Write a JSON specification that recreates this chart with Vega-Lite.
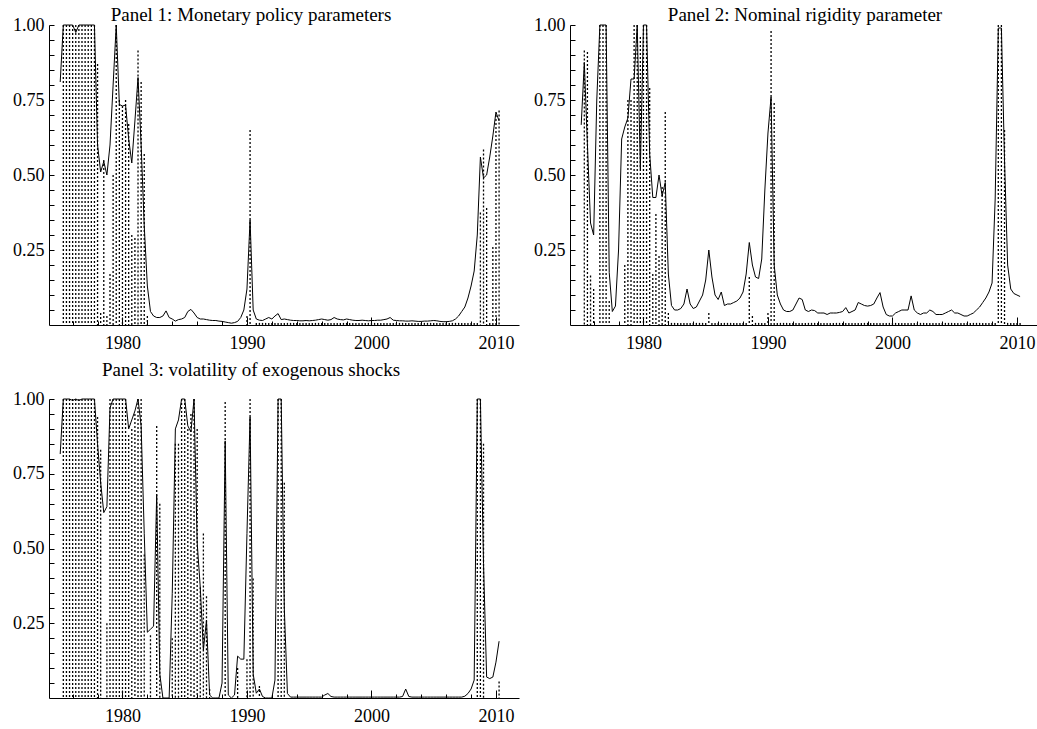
{
"$schema": "https://vega.github.io/schema/vega-lite/v6.json",
"background": "white",
"padding": {"left": 12, "top": 6, "right": 0, "bottom": 0},
"config": {
  "view": {"stroke": null},
  "font": "Liberation Serif",
  "axis": {"labelFont": "Liberation Serif", "labelFontSize": 18, "labelColor": "black", "domainColor": "black", "tickColor": "black", "grid": false, "title": null, "domainWidth": 1, "tickWidth": 1, "labelOverlap": false},
  "title": {"font": "Liberation Serif", "fontSize": 19, "fontWeight": "normal", "color": "black", "anchor": "middle", "baseline": "bottom"}
},
"datasets": {"d": [
{"t":1975,"s1":0.81,"f1":0,"s2":0.667,"f2":0,"s3":0.816,"f3":0},
{"t":1975.25,"s1":1,"f1":1,"s2":0.875,"f2":0.915,"s3":1,"f3":1},
{"t":1975.5,"s1":1,"f1":1,"s2":0.6,"f2":0.91,"s3":1,"f3":1},
{"t":1975.75,"s1":1,"f1":1,"s2":0.34,"f2":0.165,"s3":1,"f3":1},
{"t":1976,"s1":1,"f1":1,"s2":0.3,"f2":0.12,"s3":0.995,"f3":1},
{"t":1976.25,"s1":0.975,"f1":1,"s2":0.75,"f2":0,"s3":1,"f3":1},
{"t":1976.5,"s1":1,"f1":1,"s2":1,"f2":1,"s3":0.995,"f3":1},
{"t":1976.75,"s1":1,"f1":1,"s2":1,"f2":1,"s3":1,"f3":1},
{"t":1977,"s1":1,"f1":1,"s2":1,"f2":1,"s3":1,"f3":1},
{"t":1977.25,"s1":1,"f1":1,"s2":0.175,"f2":0.08,"s3":1,"f3":1},
{"t":1977.5,"s1":1,"f1":1,"s2":0.045,"f2":0,"s3":1,"f3":1},
{"t":1977.75,"s1":1,"f1":1,"s2":0.063,"f2":0,"s3":1,"f3":1},
{"t":1978,"s1":0.6,"f1":0.87,"s2":0.25,"f2":0,"s3":0.85,"f3":0.94},
{"t":1978.25,"s1":0.51,"f1":0.04,"s2":0.62,"f2":0,"s3":0.72,"f3":0.83},
{"t":1978.5,"s1":0.545,"f1":0.55,"s2":0.66,"f2":0.2,"s3":0.62,"f3":0},
{"t":1978.75,"s1":0.5,"f1":0.03,"s2":0.69,"f2":0.75,"s3":0.64,"f3":0.25},
{"t":1979,"s1":0.6,"f1":0.17,"s2":0.82,"f2":0.75,"s3":0.97,"f3":1},
{"t":1979.25,"s1":0.8,"f1":0.5,"s2":0.82,"f2":1,"s3":1,"f3":1},
{"t":1979.5,"s1":1,"f1":1,"s2":1,"f2":1,"s3":1,"f3":1},
{"t":1979.75,"s1":0.735,"f1":0.75,"s2":0.52,"f2":0.96,"s3":1,"f3":1},
{"t":1980,"s1":0.73,"f1":0.73,"s2":1,"f2":1,"s3":1,"f3":1},
{"t":1980.25,"s1":0.733,"f1":0.75,"s2":1,"f2":1,"s3":1,"f3":1},
{"t":1980.5,"s1":0.62,"f1":0.67,"s2":0.57,"f2":0.79,"s3":0.9,"f3":0.88},
{"t":1980.75,"s1":0.54,"f1":0.3,"s2":0.425,"f2":0.17,"s3":0.93,"f3":0.9},
{"t":1981,"s1":0.68,"f1":0.29,"s2":0.425,"f2":0.37,"s3":0.96,"f3":0.95},
{"t":1981.25,"s1":0.825,"f1":0.915,"s2":0.5,"f2":0.23,"s3":1,"f3":1},
{"t":1981.5,"s1":0.6,"f1":0.81,"s2":0.43,"f2":0.46,"s3":0.91,"f3":1},
{"t":1981.75,"s1":0.33,"f1":0.57,"s2":0.475,"f2":0.71,"s3":0.55,"f3":0.48},
{"t":1982,"s1":0.13,"f1":0.03,"s2":0.17,"f2":0.04,"s3":0.22,"f3":0},
{"t":1982.25,"s1":0.045,"f1":0,"s2":0.065,"f2":0.007,"s3":0.23,"f3":0.21},
{"t":1982.5,"s1":0.03,"f1":0,"s2":0.05,"f2":0.007,"s3":0.24,"f3":0},
{"t":1982.75,"s1":0.025,"f1":0,"s2":0.05,"f2":0.007,"s3":0.68,"f3":0.91},
{"t":1983,"s1":0.025,"f1":0,"s2":0.055,"f2":0.007,"s3":0.08,"f3":0.65},
{"t":1983.25,"s1":0.03,"f1":0,"s2":0.07,"f2":0.007,"s3":0,"f3":0},
{"t":1983.5,"s1":0.047,"f1":0,"s2":0.12,"f2":0.007,"s3":0,"f3":0},
{"t":1983.75,"s1":0.025,"f1":0,"s2":0.07,"f2":0.007,"s3":0,"f3":0},
{"t":1984,"s1":0.02,"f1":0,"s2":0.055,"f2":0.007,"s3":0.35,"f3":0.2},
{"t":1984.25,"s1":0.013,"f1":0,"s2":0.06,"f2":0.007,"s3":0.9,"f3":0.85},
{"t":1984.5,"s1":0.018,"f1":0,"s2":0.08,"f2":0.007,"s3":0.93,"f3":0.85},
{"t":1984.75,"s1":0.02,"f1":0,"s2":0.1,"f2":0.007,"s3":1,"f3":1},
{"t":1985,"s1":0.025,"f1":0,"s2":0.15,"f2":0.007,"s3":1,"f3":1},
{"t":1985.25,"s1":0.045,"f1":0,"s2":0.25,"f2":0.04,"s3":0.91,"f3":0.9},
{"t":1985.5,"s1":0.052,"f1":0,"s2":0.16,"f2":0.007,"s3":0.89,"f3":0.95},
{"t":1985.75,"s1":0.04,"f1":0,"s2":0.1,"f2":0.007,"s3":1,"f3":1},
{"t":1986,"s1":0.025,"f1":0,"s2":0.085,"f2":0.007,"s3":0.52,"f3":0.9},
{"t":1986.25,"s1":0.02,"f1":0,"s2":0.11,"f2":0.007,"s3":0.37,"f3":0.37},
{"t":1986.5,"s1":0.02,"f1":0,"s2":0.065,"f2":0.007,"s3":0.16,"f3":0.55},
{"t":1986.75,"s1":0.018,"f1":0,"s2":0.07,"f2":0.007,"s3":0.26,"f3":0.34},
{"t":1987,"s1":0.016,"f1":0,"s2":0.07,"f2":0.007,"s3":0.01,"f3":0.03},
{"t":1987.25,"s1":0.015,"f1":0,"s2":0.075,"f2":0.007,"s3":0,"f3":0},
{"t":1987.5,"s1":0.015,"f1":0,"s2":0.08,"f2":0.007,"s3":0,"f3":0},
{"t":1987.75,"s1":0.013,"f1":0,"s2":0.09,"f2":0.007,"s3":0,"f3":0},
{"t":1988,"s1":0.012,"f1":0,"s2":0.11,"f2":0.007,"s3":0.05,"f3":0},
{"t":1988.25,"s1":0.01,"f1":0,"s2":0.17,"f2":0.007,"s3":0.86,"f3":0.99},
{"t":1988.5,"s1":0.008,"f1":0,"s2":0.275,"f2":0.16,"s3":0.01,"f3":0},
{"t":1988.75,"s1":0.006,"f1":0,"s2":0.2,"f2":0.03,"s3":0,"f3":0},
{"t":1989,"s1":0.008,"f1":0,"s2":0.16,"f2":0.007,"s3":0.01,"f3":0},
{"t":1989.25,"s1":0.012,"f1":0,"s2":0.155,"f2":0.007,"s3":0.14,"f3":0.1},
{"t":1989.5,"s1":0.025,"f1":0,"s2":0.22,"f2":0.007,"s3":0.13,"f3":0},
{"t":1989.75,"s1":0.05,"f1":0,"s2":0.45,"f2":0.007,"s3":0.13,"f3":0},
{"t":1990,"s1":0.12,"f1":0.03,"s2":0.64,"f2":0.04,"s3":0.55,"f3":0.13},
{"t":1990.25,"s1":0.35,"f1":0.65,"s2":0.76,"f2":0.98,"s3":0.94,"f3":1},
{"t":1990.5,"s1":0.05,"f1":0,"s2":0.2,"f2":0.74,"s3":0.08,"f3":0.4},
{"t":1990.75,"s1":0.02,"f1":0.007,"s2":0.1,"f2":0.007,"s3":0.016,"f3":0},
{"t":1991,"s1":0.016,"f1":0.007,"s2":0.07,"f2":0.007,"s3":0.03,"f3":0.04},
{"t":1991.25,"s1":0.015,"f1":0.007,"s2":0.05,"f2":0.007,"s3":0.005,"f3":0},
{"t":1991.5,"s1":0.02,"f1":0.007,"s2":0.045,"f2":0.007,"s3":0,"f3":0},
{"t":1991.75,"s1":0.025,"f1":0.007,"s2":0.045,"f2":0.007,"s3":0,"f3":0},
{"t":1992,"s1":0.02,"f1":0.007,"s2":0.05,"f2":0.007,"s3":0,"f3":0},
{"t":1992.25,"s1":0.03,"f1":0.007,"s2":0.07,"f2":0.007,"s3":0.06,"f3":0},
{"t":1992.5,"s1":0.038,"f1":0.007,"s2":0.09,"f2":0.007,"s3":1,"f3":1},
{"t":1992.75,"s1":0.018,"f1":0.007,"s2":0.085,"f2":0.007,"s3":1,"f3":1},
{"t":1993,"s1":0.02,"f1":0.007,"s2":0.05,"f2":0.007,"s3":0.3,"f3":0.72},
{"t":1993.25,"s1":0.018,"f1":0.007,"s2":0.045,"f2":0.007,"s3":0.015,"f3":0},
{"t":1993.5,"s1":0.016,"f1":0.007,"s2":0.05,"f2":0.007,"s3":0.003,"f3":0},
{"t":1993.75,"s1":0.015,"f1":0.007,"s2":0.048,"f2":0.007,"s3":0.003,"f3":0},
{"t":1994,"s1":0.015,"f1":0.007,"s2":0.04,"f2":0.007,"s3":0.003,"f3":0},
{"t":1994.25,"s1":0.014,"f1":0.007,"s2":0.04,"f2":0.007,"s3":0.003,"f3":0},
{"t":1994.5,"s1":0.014,"f1":0.007,"s2":0.04,"f2":0.007,"s3":0.003,"f3":0},
{"t":1994.75,"s1":0.015,"f1":0.007,"s2":0.035,"f2":0.007,"s3":0.003,"f3":0},
{"t":1995,"s1":0.014,"f1":0.007,"s2":0.04,"f2":0.007,"s3":0.003,"f3":0},
{"t":1995.25,"s1":0.015,"f1":0.007,"s2":0.04,"f2":0.007,"s3":0.003,"f3":0},
{"t":1995.5,"s1":0.016,"f1":0.007,"s2":0.04,"f2":0.007,"s3":0.003,"f3":0},
{"t":1995.75,"s1":0.018,"f1":0.007,"s2":0.042,"f2":0.007,"s3":0.003,"f3":0},
{"t":1996,"s1":0.02,"f1":0.007,"s2":0.045,"f2":0.007,"s3":0.003,"f3":0},
{"t":1996.25,"s1":0.018,"f1":0.007,"s2":0.058,"f2":0.007,"s3":0.01,"f3":0},
{"t":1996.5,"s1":0.016,"f1":0.007,"s2":0.04,"f2":0.007,"s3":0.015,"f3":0},
{"t":1996.75,"s1":0.018,"f1":0.007,"s2":0.045,"f2":0.007,"s3":0.005,"f3":0},
{"t":1997,"s1":0.025,"f1":0.007,"s2":0.05,"f2":0.007,"s3":0.003,"f3":0},
{"t":1997.25,"s1":0.02,"f1":0.007,"s2":0.075,"f2":0.007,"s3":0.003,"f3":0},
{"t":1997.5,"s1":0.018,"f1":0.007,"s2":0.07,"f2":0.007,"s3":0.003,"f3":0},
{"t":1997.75,"s1":0.017,"f1":0.007,"s2":0.065,"f2":0.007,"s3":0.003,"f3":0},
{"t":1998,"s1":0.02,"f1":0.007,"s2":0.063,"f2":0.007,"s3":0.003,"f3":0},
{"t":1998.25,"s1":0.018,"f1":0.007,"s2":0.065,"f2":0.007,"s3":0.003,"f3":0},
{"t":1998.5,"s1":0.016,"f1":0.007,"s2":0.07,"f2":0.007,"s3":0.003,"f3":0},
{"t":1998.75,"s1":0.015,"f1":0.007,"s2":0.09,"f2":0.007,"s3":0.003,"f3":0},
{"t":1999,"s1":0.015,"f1":0.007,"s2":0.108,"f2":0.007,"s3":0.003,"f3":0},
{"t":1999.25,"s1":0.016,"f1":0.007,"s2":0.06,"f2":0.007,"s3":0.003,"f3":0},
{"t":1999.5,"s1":0.015,"f1":0.007,"s2":0.035,"f2":0.007,"s3":0.003,"f3":0},
{"t":1999.75,"s1":0.014,"f1":0.007,"s2":0.03,"f2":0.007,"s3":0.003,"f3":0},
{"t":2000,"s1":0.015,"f1":0.007,"s2":0.03,"f2":0.007,"s3":0.003,"f3":0},
{"t":2000.25,"s1":0.015,"f1":0.007,"s2":0.04,"f2":0.007,"s3":0.003,"f3":0},
{"t":2000.5,"s1":0.016,"f1":0.007,"s2":0.045,"f2":0.007,"s3":0.003,"f3":0},
{"t":2000.75,"s1":0.016,"f1":0.007,"s2":0.05,"f2":0.007,"s3":0.003,"f3":0},
{"t":2001,"s1":0.018,"f1":0.007,"s2":0.05,"f2":0.007,"s3":0.003,"f3":0},
{"t":2001.25,"s1":0.02,"f1":0.007,"s2":0.05,"f2":0.007,"s3":0.003,"f3":0},
{"t":2001.5,"s1":0.025,"f1":0.007,"s2":0.097,"f2":0.007,"s3":0.003,"f3":0},
{"t":2001.75,"s1":0.016,"f1":0.007,"s2":0.05,"f2":0.007,"s3":0.003,"f3":0},
{"t":2002,"s1":0.015,"f1":0.007,"s2":0.04,"f2":0.007,"s3":0.003,"f3":0},
{"t":2002.25,"s1":0.014,"f1":0.007,"s2":0.035,"f2":0.007,"s3":0.003,"f3":0},
{"t":2002.5,"s1":0.014,"f1":0.007,"s2":0.04,"f2":0.007,"s3":0.005,"f3":0},
{"t":2002.75,"s1":0.013,"f1":0.007,"s2":0.04,"f2":0.007,"s3":0.03,"f3":0},
{"t":2003,"s1":0.013,"f1":0.007,"s2":0.05,"f2":0.007,"s3":0.005,"f3":0},
{"t":2003.25,"s1":0.014,"f1":0.007,"s2":0.045,"f2":0.007,"s3":0.003,"f3":0},
{"t":2003.5,"s1":0.013,"f1":0.007,"s2":0.035,"f2":0.007,"s3":0.003,"f3":0},
{"t":2003.75,"s1":0.012,"f1":0.007,"s2":0.035,"f2":0.007,"s3":0.003,"f3":0},
{"t":2004,"s1":0.012,"f1":0.007,"s2":0.035,"f2":0.007,"s3":0.003,"f3":0},
{"t":2004.25,"s1":0.013,"f1":0.007,"s2":0.04,"f2":0.007,"s3":0.003,"f3":0},
{"t":2004.5,"s1":0.013,"f1":0.007,"s2":0.045,"f2":0.007,"s3":0.003,"f3":0},
{"t":2004.75,"s1":0.014,"f1":0.007,"s2":0.05,"f2":0.007,"s3":0.003,"f3":0},
{"t":2005,"s1":0.015,"f1":0.007,"s2":0.04,"f2":0.007,"s3":0.003,"f3":0},
{"t":2005.25,"s1":0.014,"f1":0.007,"s2":0.04,"f2":0.007,"s3":0.003,"f3":0},
{"t":2005.5,"s1":0.012,"f1":0.007,"s2":0.035,"f2":0.007,"s3":0.003,"f3":0},
{"t":2005.75,"s1":0.011,"f1":0.007,"s2":0.03,"f2":0.007,"s3":0.003,"f3":0},
{"t":2006,"s1":0.011,"f1":0.007,"s2":0.03,"f2":0.007,"s3":0.003,"f3":0},
{"t":2006.25,"s1":0.012,"f1":0.007,"s2":0.035,"f2":0.007,"s3":0.003,"f3":0},
{"t":2006.5,"s1":0.014,"f1":0.007,"s2":0.04,"f2":0.007,"s3":0.003,"f3":0},
{"t":2006.75,"s1":0.02,"f1":0.007,"s2":0.05,"f2":0.007,"s3":0.003,"f3":0},
{"t":2007,"s1":0.03,"f1":0.007,"s2":0.06,"f2":0.007,"s3":0.003,"f3":0},
{"t":2007.25,"s1":0.045,"f1":0.007,"s2":0.075,"f2":0.007,"s3":0.003,"f3":0},
{"t":2007.5,"s1":0.06,"f1":0.007,"s2":0.09,"f2":0.007,"s3":0.006,"f3":0},
{"t":2007.75,"s1":0.09,"f1":0.007,"s2":0.11,"f2":0.007,"s3":0.015,"f3":0},
{"t":2008,"s1":0.13,"f1":0.007,"s2":0.14,"f2":0.007,"s3":0.03,"f3":0},
{"t":2008.25,"s1":0.18,"f1":0.007,"s2":0.42,"f2":0.007,"s3":0.06,"f3":0},
{"t":2008.5,"s1":0.3,"f1":0.007,"s2":0.99,"f2":1,"s3":1,"f3":1},
{"t":2008.75,"s1":0.56,"f1":0.375,"s2":0.99,"f2":1,"s3":1,"f3":1},
{"t":2009,"s1":0.49,"f1":0.585,"s2":0.55,"f2":0.65,"s3":0.45,"f3":0.85},
{"t":2009.25,"s1":0.5,"f1":0.39,"s2":0.2,"f2":0.007,"s3":0.07,"f3":0},
{"t":2009.5,"s1":0.56,"f1":0.007,"s2":0.12,"f2":0.007,"s3":0.065,"f3":0},
{"t":2009.75,"s1":0.63,"f1":0.26,"s2":0.105,"f2":0.007,"s3":0.07,"f3":0},
{"t":2010,"s1":0.71,"f1":0.7,"s2":0.1,"f2":0.007,"s3":0.12,"f3":0},
{"t":2010.25,"s1":0.68,"f1":0.715,"s2":0.095,"f2":0.007,"s3":0.19,"f3":0.055}
]},
"columns": 2,
"spacing": {"row": 9, "column": 14},
"concat": [
{
  "width": 470, "height": 300,
  "title": {"text": "Panel 1: Monetary policy parameters", "dx": -33, "offset": -9},
  "data": {"name": "d"},
  "layer": [
    {"mark": {"type": "rule", "color": "black", "strokeWidth": 1.3, "strokeDash": [2, 2]},
     "encoding": {
       "x": {"field": "t", "type": "quantitative", "scale": {"domain": [1974.1, 2011.85], "nice": false, "zero": false}, "axis": {"values": [1980, 1990, 2000, 2010], "format": "d", "tickSize": -8, "labelPadding": 17}},
       "y": {"field": "f1", "type": "quantitative", "scale": {"domain": [0, 1], "nice": false}, "axis": {"values": [0.05,0.1,0.15,0.2,0.25,0.3,0.35,0.4,0.45,0.5,0.55,0.6,0.65,0.7,0.75,0.8,0.85,0.9,0.95,1], "tickSize": -5, "labelPadding": 10, "labelExpr": "round(datum.value*100) % 25 == 0 ? format(datum.value, '.2f') : ''"}},
       "y2": {"datum": 0}
     }},
    {"mark": {"type": "line", "color": "black", "strokeWidth": 1},
     "encoding": {
       "x": {"field": "t", "type": "quantitative", "scale": {"domain": [1974.1, 2011.85], "nice": false, "zero": false}, "axis": {"orient": "bottom", "values": [1976,1978,1982,1984,1986,1988,1992,1994,1996,1998,2002,2004,2006,2008], "tickSize": -4, "labels": false, "domain": false}},
       "y": {"field": "s1", "type": "quantitative", "scale": {"domain": [0, 1], "nice": false}, "axis": {"values": [0.05,0.1,0.15,0.2,0.25,0.3,0.35,0.4,0.45,0.5,0.55,0.6,0.65,0.7,0.75,0.8,0.85,0.9,0.95,1], "tickSize": -5, "labelPadding": 10, "labelExpr": "round(datum.value*100) % 25 == 0 ? format(datum.value, '.2f') : ''"}}
     }}
  ],
  "resolve": {"axis": {"x": "independent"}}
},
{
  "width": 470, "height": 300,
  "title": {"text": "Panel 2: Nominal rigidity parameter", "dx": 0, "offset": -9},
  "data": {"name": "d"},
  "layer": [
    {"mark": {"type": "rule", "color": "black", "strokeWidth": 1.3, "strokeDash": [2, 2]},
     "encoding": {
       "x": {"field": "t", "type": "quantitative", "scale": {"domain": [1974.1, 2011.85], "nice": false, "zero": false}, "axis": {"values": [1980, 1990, 2000, 2010], "format": "d", "tickSize": -8, "labelPadding": 17}},
       "y": {"field": "f2", "type": "quantitative", "scale": {"domain": [0, 1], "nice": false}, "axis": {"values": [0.05,0.1,0.15,0.2,0.25,0.3,0.35,0.4,0.45,0.5,0.55,0.6,0.65,0.7,0.75,0.8,0.85,0.9,0.95,1], "tickSize": -5, "labelPadding": 10, "labelExpr": "round(datum.value*100) % 25 == 0 ? format(datum.value, '.2f') : ''"}},
       "y2": {"datum": 0}
     }},
    {"mark": {"type": "line", "color": "black", "strokeWidth": 1},
     "encoding": {
       "x": {"field": "t", "type": "quantitative", "scale": {"domain": [1974.1, 2011.85], "nice": false, "zero": false}, "axis": {"orient": "bottom", "values": [1976,1978,1982,1984,1986,1988,1992,1994,1996,1998,2002,2004,2006,2008], "tickSize": -4, "labels": false, "domain": false}},
       "y": {"field": "s2", "type": "quantitative", "scale": {"domain": [0, 1], "nice": false}, "axis": {"values": [0.05,0.1,0.15,0.2,0.25,0.3,0.35,0.4,0.45,0.5,0.55,0.6,0.65,0.7,0.75,0.8,0.85,0.9,0.95,1], "tickSize": -5, "labelPadding": 10, "labelExpr": "round(datum.value*100) % 25 == 0 ? format(datum.value, '.2f') : ''"}}
     }}
  ],
  "resolve": {"axis": {"x": "independent"}}
},
{
  "width": 470, "height": 299,
  "title": {"text": "Panel 3: volatility of exogenous shocks", "dx": -33, "offset": 10},
  "data": {"name": "d"},
  "layer": [
    {"mark": {"type": "rule", "color": "black", "strokeWidth": 1.3, "strokeDash": [2, 2]},
     "encoding": {
       "x": {"field": "t", "type": "quantitative", "scale": {"domain": [1974.1, 2011.85], "nice": false, "zero": false}, "axis": {"values": [1980, 1990, 2000, 2010], "format": "d", "tickSize": -8, "labelPadding": 17}},
       "y": {"field": "f3", "type": "quantitative", "scale": {"domain": [0, 1], "nice": false}, "axis": {"values": [0.05,0.1,0.15,0.2,0.25,0.3,0.35,0.4,0.45,0.5,0.55,0.6,0.65,0.7,0.75,0.8,0.85,0.9,0.95,1], "tickSize": -5, "labelPadding": 10, "labelExpr": "round(datum.value*100) % 25 == 0 ? format(datum.value, '.2f') : ''"}},
       "y2": {"datum": 0}
     }},
    {"mark": {"type": "line", "color": "black", "strokeWidth": 1},
     "encoding": {
       "x": {"field": "t", "type": "quantitative", "scale": {"domain": [1974.1, 2011.85], "nice": false, "zero": false}, "axis": {"orient": "bottom", "values": [1976,1978,1982,1984,1986,1988,1992,1994,1996,1998,2002,2004,2006,2008], "tickSize": -4, "labels": false, "domain": false}},
       "y": {"field": "s3", "type": "quantitative", "scale": {"domain": [0, 1], "nice": false}, "axis": {"values": [0.05,0.1,0.15,0.2,0.25,0.3,0.35,0.4,0.45,0.5,0.55,0.6,0.65,0.7,0.75,0.8,0.85,0.9,0.95,1], "tickSize": -5, "labelPadding": 10, "labelExpr": "round(datum.value*100) % 25 == 0 ? format(datum.value, '.2f') : ''"}}
     }}
  ],
  "resolve": {"axis": {"x": "independent"}}
}
]
}
